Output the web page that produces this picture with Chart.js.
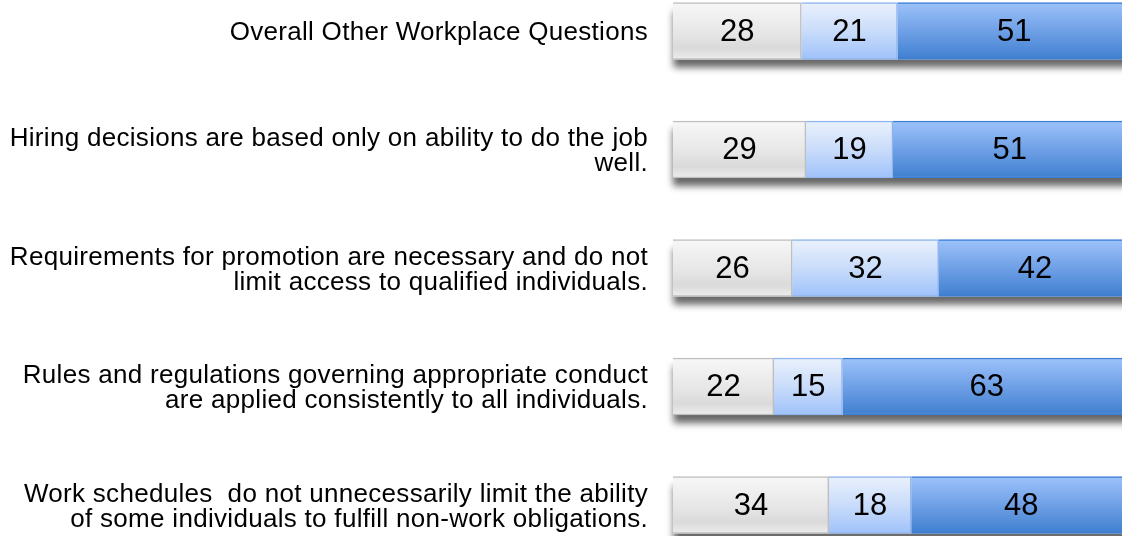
<!DOCTYPE html>
<html>
<head>
<meta charset="utf-8">
<script src="https://cdn.jsdelivr.net/npm/chart.js@4"></script>
<style>
  html, body { margin: 0; padding: 0; background: #fff; }
  #wrap { width: 1122px; height: 536px; position: relative; }
</style>
</head>
<body>
<div id="wrap"><canvas id="chart"></canvas></div>
<script>
// data
const questions = [
    ["Overall Other Workplace Questions"],
    ["Hiring decisions are based only on ability to do the job", "well."],
    ["Requirements for promotion are necessary and do not", "limit access to qualified individuals."],
    ["Rules and regulations governing appropriate conduct", "are applied consistently to all individuals."],
    ["Work schedules  do not unnecessarily limit the ability", "of some individuals to fulfill non-work obligations."]
];
const seriesGray = [28, 29, 26, 22, 34];
const seriesLight = [21, 19, 32, 15, 18];
const seriesBlue = [51, 51, 42, 63, 48];

const BAR_H = 57;

// gradient per bar, based on the bar's position
const makeGradient = (stops, fallback) => (context) => {
    const chart = context.chart;
    if (!chart.chartArea || context.dataIndex === undefined) return fallback;
    const yc = chart.scales.y.getPixelForValue(context.dataIndex);
    const g = chart.ctx.createLinearGradient(0, yc - BAR_H / 2, 0, yc + BAR_H / 2);
    stops.forEach(s => g.addColorStop(s[0], s[1]));
    return g;
};

// slightly wider text for the question labels
const textSpacing = {
    id: "textSpacing",
    beforeDraw(chart) {
        chart.ctx.letterSpacing = "0.3px";
    }
};

// shadow under each stacked row (bars clip themselves, so draw it separately)
const shadowPlugin = {
    id: "barShadow",
    beforeDatasetsDraw(chart) {
        const ctx = chart.ctx;
        const first = chart.getDatasetMeta(0).data;
        const last = chart.getDatasetMeta(chart.data.datasets.length - 1).data;
        ctx.save();
        ctx.shadowColor = "rgba(0, 0, 0, 0.6)";
        ctx.shadowBlur = 7;
        ctx.shadowOffsetY = 8;
        ctx.fillStyle = "#fff";
        first.forEach((bar, j) => {
            const a = bar.getProps(["base", "y", "height"], true);
            const b = last[j].getProps(["x"], true);
            ctx.fillRect(a.base, a.y - a.height / 2, b.x - a.base, a.height);
        });
        ctx.restore();
    }
};

// numbers inside the bars
const valueLabels = {
    id: "valueLabels",
    afterDatasetsDraw(chart) {
        const ctx = chart.ctx;
        ctx.save();
        ctx.letterSpacing = "0px";
        ctx.font = "31px 'Liberation Sans', Arial, sans-serif";
        ctx.fillStyle = "#000";
        ctx.textAlign = "center";
        ctx.textBaseline = "middle";
        chart.data.datasets.forEach((ds, i) => {
            chart.getDatasetMeta(i).data.forEach((bar, j) => {
                const p = bar.getProps(["x", "y", "base"], true);
                ctx.fillText(ds.data[j], (p.x + p.base) / 2, p.y + 1);
            });
        });
        ctx.restore();
    }
};

new Chart(document.getElementById("chart"), {
    type: "bar",
    data: {
        labels: questions,
        datasets: [
            {
                data: seriesGray,
                backgroundColor: makeGradient([[0, "#f7f7f7"], [0.55, "#e6e6e6"], [0.8, "#dadada"], [1, "#ededed"]], "#e6e6e6"),
                borderColor: "#bfbfbf",
                borderWidth: 1.5
            },
            {
                data: seriesLight,
                backgroundColor: makeGradient([[0, "#eaf1fc"], [0.5, "#c9dcfa"], [1, "#9fc2fa"]], "#c9dcfa"),
                borderColor: "#8db4ec",
                borderWidth: 1.5
            },
            {
                data: seriesBlue,
                backgroundColor: makeGradient([[0, "#9dc2fa"], [0.5, "#6fa0e6"], [1, "#3f7fcf"]], "#6fa0e6"),
                borderColor: "#3b7dd4",
                borderWidth: 1.5
            }
        ]
    },
    options: {
        indexAxis: "y",
        responsive: true,
        maintainAspectRatio: false,
        animation: false,
        layout: { padding: { top: 31, bottom: 31, right: 0, left: 0 } },
        datasets: { bar: { barThickness: BAR_H, clip: false } },
        plugins: {
            legend: { display: false },
            tooltip: { enabled: false }
        },
        scales: {
            x: {
                display: false,
                stacked: true,
                min: 0,
                max: 98
            },
            y: {
                stacked: true,
                offset: false,
                afterFit: (scale) => {
                    scale.width = 673;
                    scale.paddingTop = 0;
                    scale.paddingBottom = 0;
                },
                grid: { display: false, drawTicks: false },
                border: { display: false },
                ticks: {
                    padding: 25,
                    labelOffset: 2,
                    color: "#000",
                    font: { family: "'Liberation Sans', Arial, sans-serif", size: 26, lineHeight: 0.97 }
                }
            }
        }
    },
    plugins: [textSpacing, shadowPlugin, valueLabels]
});
</script>
</body>
</html>
